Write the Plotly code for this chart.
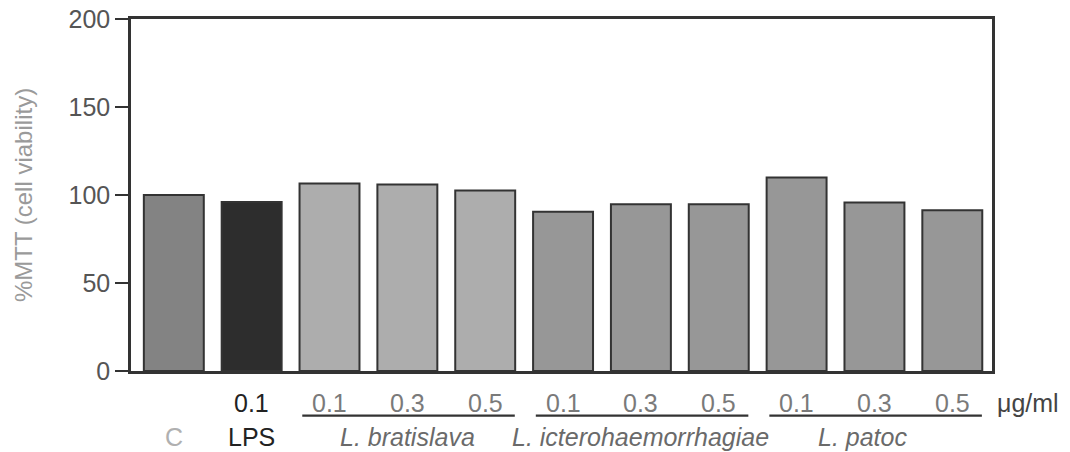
import plotly.graph_objects as go

# Bar data: control, LPS, and three Leptospira strains at three doses
categories = ["C", "LPS 0.1",
              "bra 0.1", "bra 0.3", "bra 0.5",
              "ict 0.1", "ict 0.3", "ict 0.5",
              "pat 0.1", "pat 0.3", "pat 0.5"]
mtt_values = [100, 96, 106.5, 106, 102.5, 90.5, 94.7, 94.7, 110, 95.7, 91.3]
bar_colors = ["#838383", "#2d2d2d",
              "#adadad", "#adadad", "#adadad",
              "#979797", "#979797", "#979797",
              "#979797", "#979797", "#979797"]

dose_labels = ["", "0.1", "0.1", "0.3", "0.5", "0.1", "0.3", "0.5", "0.1", "0.3", "0.5"]
group_names = ["C", "LPS", "<i>L. bratislava</i>", "<i>L. icterohaemorrhagiae</i>", "<i>L. patoc</i>"]
group_centers = [0, 1, 3, 6, 8.85]
group_colors = ["#b0b0b0", "#222222", "#6a6a6a", "#6a6a6a", "#6a6a6a"]
underline_spans = [(2, 4), (5, 7), (8, 10)]

y_ticks = [0, 50, 100, 150, 200]

FONT = "Liberation Sans, Arial, Helvetica, sans-serif"
x_pos = list(range(len(categories)))

fig = go.Figure(go.Bar(
    x=x_pos, y=mtt_values, width=0.77,
    marker=dict(color=bar_colors, line=dict(color="#333333", width=2)),
))

annotations = []
# dose row
for i, d in enumerate(dose_labels):
    if not d:
        continue
    annotations.append(dict(
        x=i, xref="x", y=-0.091, yref="paper", text=d, showarrow=False,
        xanchor="center", yanchor="middle",
        font=dict(family=FONT, size=25, color="#222222" if i == 1 else "#7a7a7a"),
    ))
annotations.append(dict(
    x=1.004, xref="paper", y=-0.091, yref="paper", text="\u03bcg/ml", showarrow=False,
    xanchor="left", yanchor="middle", font=dict(family=FONT, size=25, color="#444444"),
))
# group name row
for name, cx, col in zip(group_names, group_centers, group_colors):
    annotations.append(dict(
        x=cx, xref="x", y=-0.1875, yref="paper", text=name, showarrow=False,
        xanchor="center", yanchor="middle", font=dict(family=FONT, size=25, color=col),
    ))

shapes = []
for a, b in underline_spans:
    shapes.append(dict(
        type="line", xref="x", yref="paper", x0=a - 0.35, x1=b + 0.38,
        y0=-0.127, y1=-0.127, line=dict(color="#333333", width=2.2),
    ))

fig.update_layout(
    width=1070, height=452,
    margin=dict(l=131, r=78, t=19, b=81),
    paper_bgcolor="white", plot_bgcolor="white",
    showlegend=False,
    annotations=annotations, shapes=shapes,
    font=dict(family=FONT),
    xaxis=dict(
        range=[-0.55, 10.51], showticklabels=False, ticks="",
        showgrid=False, zeroline=False, automargin=False,
        showline=True, linecolor="#333333", linewidth=2.5, mirror=True,
    ),
    yaxis=dict(
        range=[0, 200], tickvals=y_ticks, ticks="outside", ticklen=13,
        tickwidth=2, tickcolor="#333333", automargin=False,
        tickfont=dict(family=FONT, size=25, color="#555555"),
        showgrid=False, zeroline=False,
        showline=True, linecolor="#333333", linewidth=2.5, mirror=True,
        title=dict(text="%MTT (cell viability)", standoff=30,
                   font=dict(family=FONT, size=24, color="#9a9a9a")),
    ),
)

fig.write_html("out.html")
